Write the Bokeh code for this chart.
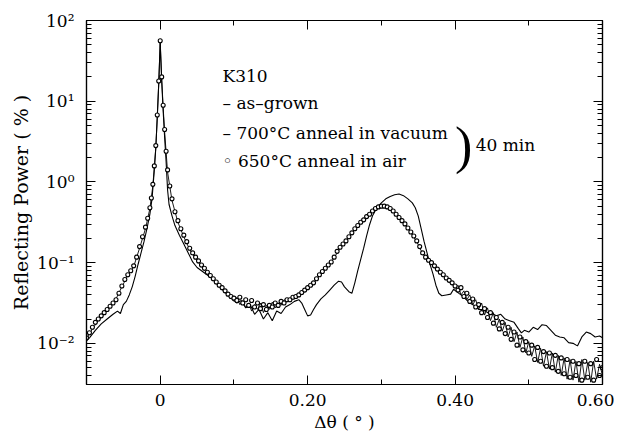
from bokeh.plotting import figure
from bokeh.models import (LinearAxis, LogAxis, FixedTicker, CustomJSTickFormatter,
                          Label, Range1d)
from bokeh.embed import file_html
from bokeh.resources import INLINE

# ---------------- data ----------------
# 650 C anneal in air (open circles)
air_x = [-0.100, -0.096, -0.092, -0.088, -0.084, -0.080, -0.076, -0.072, -0.068, -0.064,
         -0.060, -0.056, -0.052, -0.048, -0.044, -0.040, -0.036, -0.032, -0.028, -0.024,
         -0.020, -0.017, -0.014, -0.012, -0.010, -0.008, -0.006, -0.004, -0.002, 0.000,
         0.002, 0.004, 0.006, 0.008, 0.010, 0.013, 0.016, 0.020, 0.024, 0.028,
         0.032, 0.036, 0.040, 0.044, 0.048, 0.052, 0.056, 0.060, 0.064, 0.068,
         0.072, 0.076, 0.080, 0.084, 0.088, 0.092, 0.096, 0.100, 0.104, 0.108,
         0.112, 0.116, 0.120, 0.124, 0.128, 0.132, 0.136, 0.140, 0.144, 0.148,
         0.152, 0.156, 0.160, 0.164, 0.168, 0.172, 0.176, 0.180, 0.184, 0.188,
         0.192, 0.196, 0.200, 0.204, 0.208, 0.212, 0.216, 0.220, 0.224, 0.228,
         0.232, 0.236, 0.240, 0.244, 0.248, 0.252, 0.256, 0.260, 0.264, 0.268,
         0.272, 0.276, 0.280, 0.284, 0.288, 0.292, 0.296, 0.300, 0.304, 0.308,
         0.312, 0.316, 0.320, 0.324, 0.328, 0.332, 0.336, 0.340, 0.344, 0.348,
         0.352, 0.356, 0.360, 0.364, 0.368, 0.372, 0.376, 0.380, 0.384, 0.388,
         0.392, 0.396, 0.400, 0.404, 0.408, 0.412, 0.416, 0.420, 0.424, 0.428,
         0.432, 0.436, 0.440, 0.444, 0.448, 0.452, 0.456, 0.460, 0.464, 0.468,
         0.472, 0.476, 0.480, 0.484, 0.488, 0.492, 0.496, 0.500, 0.504, 0.508,
         0.512, 0.516, 0.520, 0.524, 0.528, 0.532, 0.536, 0.540, 0.544, 0.548,
         0.552, 0.556, 0.560, 0.564, 0.568, 0.572, 0.576, 0.580, 0.584, 0.588,
         0.592, 0.596, 0.600]
air_y = [0.0117, 0.0135, 0.0158, 0.0182, 0.0200, 0.0219, 0.0240, 0.0263, 0.0288, 0.0316,
         0.0347, 0.0417, 0.0513, 0.0617, 0.0708, 0.0794, 0.0912, 0.117, 0.158, 0.209,
         0.275, 0.355, 0.479, 0.631, 0.933, 1.58, 2.82, 6.76, 17.8, 56.2,
         20.0, 8.91, 4.47, 2.40, 1.41, 0.891, 0.617, 0.427, 0.331, 0.263,
         0.219, 0.182, 0.151, 0.132, 0.117, 0.105, 0.0933, 0.0851, 0.0759, 0.0692,
         0.0631, 0.0575, 0.0525, 0.0490, 0.0447, 0.0407, 0.0380, 0.0363, 0.0339, 0.0372,
         0.0316, 0.0347, 0.0295, 0.0339, 0.0282, 0.0316, 0.0269, 0.0302, 0.0263, 0.0295,
         0.0282, 0.0316, 0.0295, 0.0331, 0.0316, 0.0347, 0.0347, 0.0372, 0.0380, 0.0398,
         0.0427, 0.0457, 0.0490, 0.0525, 0.0562, 0.0631, 0.0708, 0.0776, 0.0851, 0.0933,
         0.102, 0.117, 0.138, 0.155, 0.170, 0.186, 0.209, 0.234, 0.263, 0.288,
         0.316, 0.339, 0.372, 0.398, 0.437, 0.468, 0.490, 0.501, 0.501, 0.490,
         0.468, 0.437, 0.398, 0.363, 0.331, 0.302, 0.269, 0.240, 0.214, 0.186,
         0.158, 0.132, 0.117, 0.107, 0.100, 0.0912, 0.0832, 0.0759, 0.0708, 0.0646,
         0.0603, 0.0562, 0.0513, 0.0457, 0.0490, 0.0380, 0.0417, 0.0331, 0.0355, 0.0282,
         0.0302, 0.0240, 0.0269, 0.0209, 0.0240, 0.0178, 0.0209, 0.0151, 0.0182, 0.0132,
         0.0158, 0.0112, 0.0138, 0.0095, 0.0120, 0.0083, 0.0105, 0.0076, 0.0095, 0.0063,
         0.0089, 0.0060, 0.0079, 0.0052, 0.0076, 0.0050, 0.0071, 0.0045, 0.0066, 0.0042,
         0.0063, 0.0038, 0.0060, 0.0040, 0.0056, 0.0035, 0.0060, 0.0038, 0.0056, 0.0035,
         0.0063, 0.0040, 0.0050]

# 700 C anneal in vacuum (line that follows the circles)
vac_x = [-0.100, -0.092, -0.084, -0.076, -0.068, -0.060, -0.052, -0.044, -0.036, -0.028,
         -0.020, -0.014, -0.010, -0.006, -0.004, -0.002, 0.000, 0.002, 0.004, 0.006,
         0.010, 0.016, 0.024, 0.032, 0.040, 0.048, 0.056, 0.064, 0.072, 0.080,
         0.088, 0.096, 0.100, 0.104, 0.108, 0.112, 0.116, 0.120, 0.124, 0.128,
         0.132, 0.136, 0.140, 0.144, 0.148, 0.152, 0.156, 0.160, 0.164, 0.168,
         0.172, 0.176, 0.180, 0.188, 0.196, 0.204, 0.212, 0.220, 0.228, 0.236,
         0.244, 0.252, 0.260, 0.268, 0.276, 0.284, 0.292, 0.300, 0.308, 0.316,
         0.324, 0.332, 0.340, 0.348, 0.356, 0.364, 0.372, 0.380, 0.388, 0.396,
         0.400, 0.404, 0.408, 0.412, 0.416, 0.420, 0.424, 0.428, 0.432, 0.436,
         0.440, 0.444, 0.448, 0.452, 0.456, 0.460, 0.464, 0.468, 0.472, 0.476,
         0.480, 0.484, 0.488, 0.492, 0.496, 0.500, 0.504, 0.508, 0.512, 0.516,
         0.520, 0.524, 0.528, 0.532, 0.536, 0.540, 0.544, 0.548, 0.552, 0.556,
         0.560, 0.564, 0.568, 0.572, 0.576, 0.580, 0.584, 0.588, 0.592, 0.596,
         0.600]
vac_y = [0.0112, 0.0151, 0.0191, 0.0234, 0.0282, 0.0355, 0.0501, 0.0692, 0.0891, 0.151,
         0.263, 0.468, 0.891, 2.63, 6.31, 16.6, 52.5, 19.1, 8.32, 4.17,
         1.32, 0.589, 0.316, 0.209, 0.145, 0.112, 0.0891, 0.0724, 0.0603, 0.0501,
         0.0427, 0.0363, 0.0331, 0.0372, 0.0302, 0.0339, 0.0275, 0.0316, 0.0251, 0.0302,
         0.0263, 0.0316, 0.0240, 0.0295, 0.0263, 0.0324, 0.0275, 0.0316, 0.0295, 0.0347,
         0.0324, 0.0363, 0.0355, 0.0389, 0.0447, 0.0513, 0.0617, 0.0759, 0.0912, 0.115,
         0.151, 0.182, 0.229, 0.282, 0.331, 0.389, 0.457, 0.490, 0.479, 0.427,
         0.355, 0.295, 0.234, 0.182, 0.129, 0.105, 0.0891, 0.0741, 0.0631, 0.0550,
         0.0479, 0.0525, 0.0398, 0.0447, 0.0347, 0.0398, 0.0302, 0.0347, 0.0263, 0.0316,
         0.0224, 0.0275, 0.0191, 0.0240, 0.0158, 0.0200, 0.0141, 0.0182, 0.0120, 0.0158,
         0.0105, 0.0138, 0.0089, 0.0120, 0.0076, 0.0105, 0.0069, 0.0093, 0.0058, 0.0087,
         0.0052, 0.0079, 0.0048, 0.0076, 0.0044, 0.0071, 0.0040, 0.0066, 0.0036, 0.0063,
         0.0035, 0.0060, 0.0033, 0.0063, 0.0035, 0.0058, 0.0033, 0.0060, 0.0036, 0.0055,
         0.0040]

# as-grown (line with the sharp secondary peak)
grown_x = [-0.100, -0.096, -0.088, -0.080, -0.072, -0.064, -0.058, -0.054, -0.050, -0.046,
           -0.042, -0.038, -0.034, -0.030, -0.026, -0.022, -0.018, -0.014, -0.011, -0.008,
           -0.006, -0.004, -0.002, 0.000, 0.002, 0.004, 0.006, 0.008, 0.010, 0.012,
           0.016, 0.020, 0.026, 0.032, 0.038, 0.044, 0.050, 0.056, 0.062, 0.068,
           0.074, 0.080, 0.086, 0.092, 0.098, 0.104, 0.110, 0.116, 0.122, 0.128,
           0.134, 0.140, 0.146, 0.152, 0.158, 0.164, 0.170, 0.176, 0.182, 0.188,
           0.192, 0.196, 0.200, 0.204, 0.208, 0.212, 0.218, 0.224, 0.230, 0.236,
           0.242, 0.246, 0.250, 0.256, 0.260, 0.264, 0.268, 0.272, 0.276, 0.280,
           0.284, 0.288, 0.294, 0.300, 0.306, 0.312, 0.318, 0.324, 0.330, 0.336,
           0.342, 0.346, 0.350, 0.354, 0.358, 0.362, 0.366, 0.370, 0.374, 0.378,
           0.382, 0.388, 0.394, 0.398, 0.402, 0.408, 0.414, 0.420, 0.426, 0.432,
           0.438, 0.444, 0.450, 0.456, 0.462, 0.468, 0.474, 0.480, 0.486, 0.490,
           0.494, 0.500, 0.506, 0.512, 0.518, 0.524, 0.530, 0.536, 0.542, 0.548,
           0.554, 0.560, 0.566, 0.572, 0.578, 0.584, 0.590, 0.596, 0.600]
grown_y = [0.0107, 0.0117, 0.0145, 0.0174, 0.0200, 0.0229, 0.0251, 0.0234, 0.0302, 0.0331,
           0.0398, 0.0501, 0.0676, 0.0955, 0.132, 0.182, 0.263, 0.398, 0.631, 1.41,
           2.63, 6.31, 16.6, 53.7, 17.8, 7.59, 3.55, 1.78, 0.794, 0.525,
           0.380, 0.288, 0.219, 0.170, 0.132, 0.102, 0.0871, 0.0794, 0.0724, 0.0661,
           0.0589, 0.0513, 0.0457, 0.0398, 0.0355, 0.0316, 0.0339, 0.0275, 0.0302, 0.0229,
           0.0263, 0.0200, 0.0240, 0.0191, 0.0251, 0.0234, 0.0282, 0.0302, 0.0331, 0.0347,
           0.0316, 0.0263, 0.0219, 0.0224, 0.0263, 0.0302, 0.0355, 0.0398, 0.0457, 0.0525,
           0.0589, 0.0575, 0.0501, 0.0437, 0.0417, 0.0562, 0.0794, 0.110, 0.151, 0.214,
           0.295, 0.380, 0.479, 0.550, 0.617, 0.661, 0.692, 0.708, 0.676, 0.617,
           0.550, 0.479, 0.380, 0.263, 0.182, 0.132, 0.0955, 0.0724, 0.0525, 0.0417,
           0.0389, 0.0398, 0.0407, 0.0468, 0.0437, 0.0398, 0.0355, 0.0316, 0.0295, 0.0263,
           0.0263, 0.0240, 0.0234, 0.0219, 0.0229, 0.0200, 0.0191, 0.0182, 0.0151, 0.0135,
           0.0145, 0.0138, 0.0158, 0.0148, 0.0170, 0.0166, 0.0145, 0.0126, 0.0120, 0.0117,
           0.0102, 0.0100, 0.0093, 0.0120, 0.0138, 0.0132, 0.0120, 0.0123, 0.0117]

x_major = [0.0, 0.2, 0.4, 0.6]
x_minor = [-0.1, 0.1, 0.3, 0.5]
y_major = [1e-2, 1e-1, 1e0, 1e1, 1e2]
y_minor = [m * 10.0 ** e for e in range(-3, 2) for m in range(2, 10)]

FONT = "DejaVu Serif"

# ---------------- figure ----------------
p = figure(width=614, height=434, output_backend="svg", toolbar_location=None,
           x_range=Range1d(-0.1, 0.6), y_range=Range1d(10 ** -2.51, 100),
           y_axis_type="log",
           min_border_left=86, min_border_right=12, min_border_top=20, min_border_bottom=50)
p.grid.visible = False
p.outline_line_color = "black"
p.outline_line_width = 1.2
p.background_fill_color = "white"
p.border_fill_color = "white"

xfmt = CustomJSTickFormatter(code="return Math.abs(tick) < 1e-9 ? '0' : tick.toFixed(2);")
yfmt = CustomJSTickFormatter(code="""
const e = Math.round(Math.log10(tick));
const sup = {'-': '\u207b', '0': '\u2070', '1': '\u00b9', '2': '\u00b2', '3': '\u00b3'};
return '10' + String(e).split('').map(c => sup[c]).join('');
""")
blank = CustomJSTickFormatter(code="return '';")


def style(ax, labels=True):
    ax.axis_line_color = "black"
    ax.axis_line_width = 1.2
    ax.major_tick_in = 9
    ax.major_tick_out = 0
    ax.minor_tick_in = 5
    ax.minor_tick_out = 0
    ax.major_tick_line_color = "black"
    ax.minor_tick_line_color = "black"
    ax.major_label_text_font = FONT
    ax.major_label_text_color = "black"
    ax.major_label_text_font_size = "17px"
    ax.axis_label_text_color = "black"
    if not labels:
        ax.major_label_standoff = 0


xax = p.xaxis[0]
xax.ticker = FixedTicker(ticks=x_major, minor_ticks=x_minor)
xax.formatter = xfmt
style(xax)
xax.major_label_standoff = 9
xax.axis_label = "\u0394\u03b8 ( \u00b0 )"
xax.axis_label_text_font = FONT
xax.axis_label_text_font_style = "normal"
xax.axis_label_text_font_size = "17px"
xax.axis_label_standoff = 3

yax = p.yaxis[0]
yax.ticker = FixedTicker(ticks=y_major, minor_ticks=y_minor)
yax.formatter = yfmt
style(yax)
yax.major_label_standoff = 12
yax.axis_label = "Reflecting Power ( % )"
yax.axis_label_text_font = FONT
yax.axis_label_text_font_style = "normal"
yax.axis_label_text_font_size = "19px"
yax.axis_label_standoff = 2

top = LinearAxis(ticker=FixedTicker(ticks=x_major, minor_ticks=x_minor), formatter=blank)
style(top, labels=False)
p.add_layout(top, "above")
right = LogAxis(ticker=FixedTicker(ticks=y_major, minor_ticks=y_minor), formatter=blank)
style(right, labels=False)
p.add_layout(right, "right")

# ---------------- series ----------------
p.line(grown_x, grown_y, line_color="black", line_width=1.1)
p.line(vac_x, vac_y, line_color="black", line_width=0.9)
p.scatter(air_x, air_y, marker="circle", size=4, fill_color="white",
          line_color="black", line_width=1.1)


# ---------------- annotations ----------------
def lab(x, y, text, size="17px", font=FONT, baseline="middle"):
    p.add_layout(Label(x=x, y=y, text=text, text_font=font, text_font_size=size,
                       text_color="black", text_baseline=baseline, text_align="left"))


lab(0.0845, 20.8, "K310", size="17px")
lab(0.0845, 9.37, "\u2013  as\u2013grown")
lab(0.0845, 4.09, "\u2013  700\u00b0C anneal in vacuum")
lab(0.0845, 1.84, "\u25e6 650\u00b0C anneal in air")
lab(0.4, 2.83, ")", size="52px", font="Liberation Serif")
lab(0.428, 2.83, "40 min")

with open("out.html", "w", encoding="utf-8") as f:
    f.write(file_html(p, INLINE))
